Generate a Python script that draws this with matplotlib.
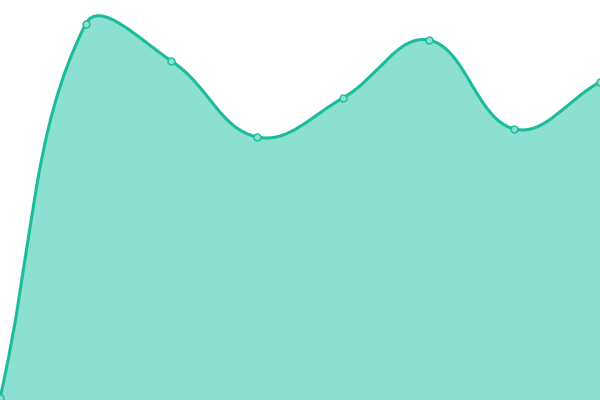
import numpy as np
import matplotlib
matplotlib.use("Agg")
import matplotlib.pyplot as plt
from matplotlib.path import Path
from matplotlib.patches import PathPatch

# values (y axis 0..400, no visible axes)
labels = ["A", "B", "C", "D", "E", "F", "G", "H"]
values = [2, 376, 339, 263, 302, 360, 271, 318]

LINE = "#1abc9c"
FILL = "#8ce0cf"
TENSION = 0.4


def spline_controls(pts, t):
    """Chart.js style bezier control points for a list of display points."""
    n = len(pts)
    out = []
    for i in range(n):
        cur = pts[i]
        prev = pts[i - 1] if i > 0 else cur
        nxt = pts[i + 1] if i < n - 1 else cur
        d01 = np.hypot(*(cur - prev))
        d12 = np.hypot(*(nxt - cur))
        tot = d01 + d12
        s01 = d01 / tot if tot else 0
        s12 = d12 / tot if tot else 0
        c_prev = cur - t * s01 * (nxt - prev)
        c_next = cur + t * s12 * (nxt - prev)
        out.append((c_prev, c_next))
    return out


fig = plt.figure(figsize=(6, 4), dpi=100)
ax = fig.add_axes([0, 0, 1, 1])
ax.set_xlim(0, len(values) - 1)
ax.set_ylim(0, 400)
ax.axis("off")

x = np.arange(len(values))
disp = ax.transData.transform(np.column_stack([x, values]))
ctrl = spline_controls(disp, TENSION)

verts = [disp[0]]
codes = [Path.MOVETO]
for i in range(1, len(disp)):
    verts += [ctrl[i - 1][1], ctrl[i][0], disp[i]]
    codes += [Path.CURVE4] * 3
verts = ax.transData.inverted().transform(np.array(verts))

line_path = Path(verts, codes)
fill_verts = np.vstack([verts, [[x[-1], 0], [x[0], 0], verts[0]]])
fill_codes = codes + [Path.LINETO, Path.LINETO, Path.CLOSEPOLY]
fill_path = Path(fill_verts, fill_codes)

ax.add_patch(PathPatch(fill_path, facecolor=FILL, edgecolor="none", zorder=1))
ax.add_patch(PathPatch(line_path, facecolor="none", edgecolor=LINE, lw=2.2, zorder=2))
ax.plot(x, values, "o", ms=5, mfc=FILL, mec=LINE, mew=1, zorder=3, clip_on=True)

fig.savefig("out.png", dpi=100)
